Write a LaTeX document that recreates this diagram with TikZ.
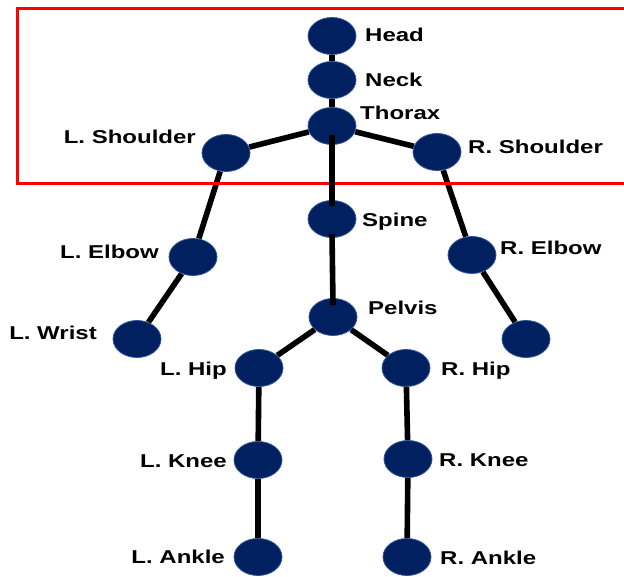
\documentclass[tikz,border=0pt]{standalone}
\usepackage{fontspec}
\usepackage{graphicx}
\setmainfont{Liberation Sans}
\usetikzlibrary{shapes.geometric,calc,backgrounds}
\definecolor{navy}{RGB}{0,32,96}
\definecolor{rim}{RGB}{47,85,151}
\newcommand\xwide[1]{\scalebox{1.29}[1]{#1}}
\begin{document}
\begin{tikzpicture}[x=1pt,y=-1pt,
 joint/.style={ellipse,fill=navy,draw=rim,line width=0.8pt,minimum width=48pt,minimum height=37pt,inner sep=0pt},
 bone/.style={line width=5.6pt,black},
 lbl/.style={inner sep=0pt,text height=13.3pt,text depth=0pt,font=\fontsize{18.6}{20}\selectfont\bfseries}]
\useasboundingbox (0,0) rectangle (624,577);
\clip (0,0) rectangle (624,577);
\draw[red,line width=3pt] (17,8.5) rectangle (640,184);
% joints
\node[joint] (head) at (332,36) {};
\node[joint] (neck) at (332,80) {};
\node[joint] (thorax) at (332,126) {};
\node[joint] (lsh) at (226,153) {};
\node[joint] (rsh) at (437,152) {};
\node[joint] (spine) at (332,219) {};
\node[joint] (lel) at (193,257) {};
\node[joint] (rel) at (472,255) {};
\node[joint] (lwr) at (137,339) {};
\node[joint] (rwr) at (526,339) {};
\node[joint] (pelvis) at (333,317) {};
\node[joint] (lhip) at (259,368) {};
\node[joint] (rhip) at (406,368) {};
\node[joint] (lkn) at (258,460) {};
\node[joint] (rkn) at (408,459) {};
\node[joint] (lan) at (258,557) {};
\node[joint] (ran) at (407,557) {};
% bones under the joints
\begin{pgfonlayer}{background}
\fill[white] (0,0) rectangle (624,577);
\draw[bone] (head) -- (neck);
\draw[bone] (neck) -- (thorax);
\draw[bone] (thorax) -- (lsh);
\draw[bone] (thorax) -- (rsh);
\draw[bone] (lsh) -- (lel);
\draw[bone] (lel) -- (lwr);
\draw[bone] (rsh) -- (rel);
\draw[bone] (rel) -- (rwr);
\draw[bone] (pelvis) -- (lhip);
\draw[bone] (pelvis) -- (rhip);
\draw[bone] (lhip) -- (lkn);
\draw[bone] (lkn) -- (lan);
\draw[bone] (rhip) -- (rkn);
\draw[bone] (rkn) -- (ran);
\end{pgfonlayer}
% central bones drawn over the joints
\draw[bone] ($(thorax.center)+(0,9)$) -- ($(spine.north)+(0,6)$);
\draw[bone] ($(spine.south)+(0,-4)$) -- ($(pelvis.north)+(0,7)$);
% labels
\node[lbl,anchor=west] (tHead) at (365,35) {\xwide{Head}};
\node[lbl,anchor=west] (tNeck) at (365,80) {\xwide{Neck}};
\node[lbl,anchor=west] (tThorax) at (360,113) {\xwide{Thorax}};
\node[lbl,anchor=east] (tLsh) at (196,137) {\xwide{L. Shoulder}};
\node[lbl,anchor=west] (tRsh) at (468,147) {\xwide{R. Shoulder}};
\node[lbl,anchor=west] (tSpine) at (362,220) {\xwide{Spine}};
\node[lbl,anchor=east] (tLel) at (159,252) {\xwide{L. Elbow}};
\node[lbl,anchor=west] (tRel) at (500,248) {\xwide{R. Elbow}};
\node[lbl,anchor=east] (tLwr) at (97,333) {\xwide{L. Wrist}};
\node[lbl,anchor=west] (tPelvis) at (368,308) {\xwide{Pelvis}};
\node[lbl,anchor=east] (tLhip) at (227,369) {\xwide{L. Hip}};
\node[lbl,anchor=west] (tRhip) at (441,369) {\xwide{R. Hip}};
\node[lbl,anchor=east] (tLkn) at (227,461) {\xwide{L. Knee}};
\node[lbl,anchor=west] (tRkn) at (439,460) {\xwide{R. Knee}};
\node[lbl,anchor=east] (tLan) at (225,557) {\xwide{L. Ankle}};
\node[lbl,anchor=west] (tRan) at (440,558) {\xwide{R. Ankle}};
\end{tikzpicture}
\end{document}
